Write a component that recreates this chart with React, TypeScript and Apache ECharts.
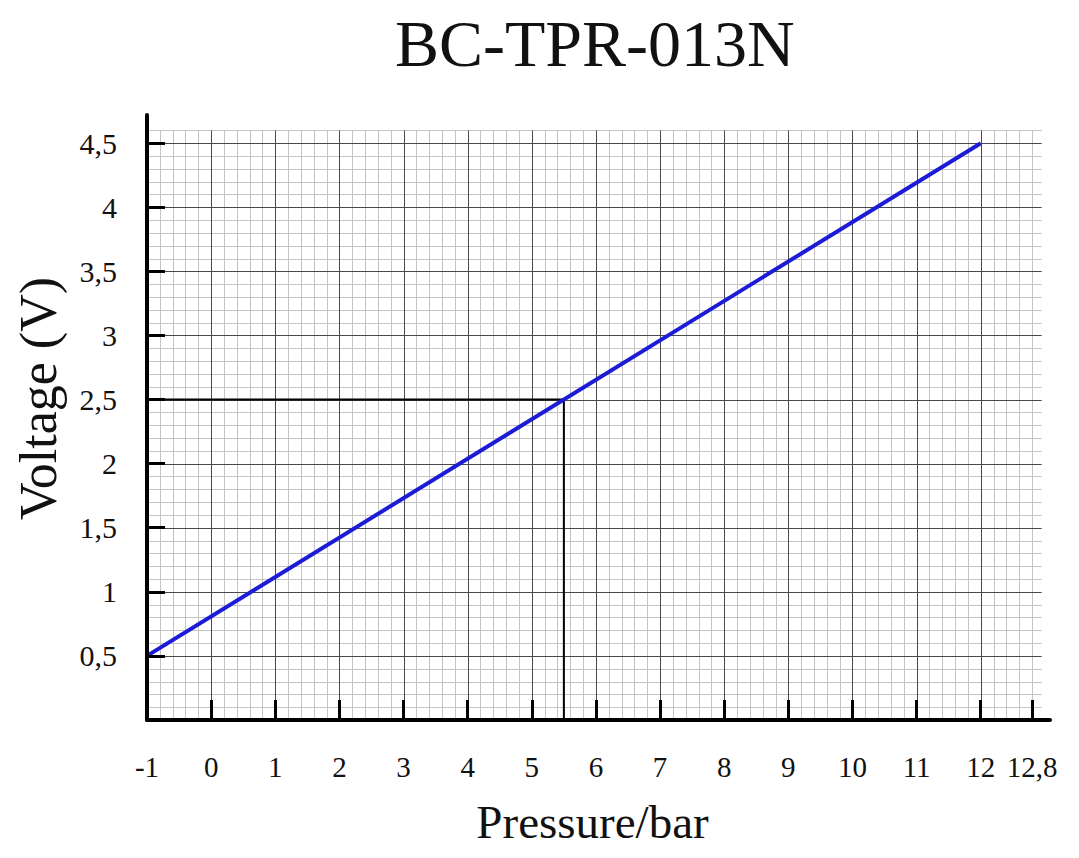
import React, { useEffect, useRef } from "react";
import * as echarts from "echarts";

const TITLE = "BC-TPR-013N";
const X_NAME = "Pressure/bar";
const Y_NAME = "Voltage (V)";

const xLabelValues = [-1, 0, 1, 2, 3, 4, 5, 6, 7, 8, 9, 10, 11, 12, 12.8];
const xTickValues = [0, 1, 2, 3, 4, 5, 6, 7, 8, 9, 10, 11, 12, 12.8];
const yLabelValues = [0.5, 1, 1.5, 2, 2.5, 3, 3.5, 4, 4.5];

const outputLine = [
  [-1, 0.5],
  [12, 4.5],
];
const referencePoint = [5.5, 2.5];

const X_MIN = -1;
const X_MAX = 13.08;
const Y_MIN = 0;
const Y_MAX = 4.72;
const GRID_X_END = 12.8;
const GRID_H_END = 12.95;
const GRID_Y_END = 4.6;

const fmt = (v: number) => String(Math.round(v * 10) / 10).replace(".", ",");

export default function App() {
  const ref = useRef<HTMLDivElement>(null);
  useEffect(() => {
    document.body.style.margin = "0";
    const chart = echarts.init(ref.current!, null, { renderer: "svg" });
    const font = "'Liberation Serif', 'Times New Roman', serif";

    const renderGrid = (params: any, api: any) => {
      const children: any[] = [];
      for (let i = 0; ; i++) {
        const x = X_MIN + i * 0.2;
        if (x > GRID_X_END + 1e-6) break;
        const major = Math.abs(x - Math.round(x)) < 1e-6;
        const p1 = api.coord([x, 0]);
        const p2 = api.coord([x, GRID_Y_END]);
        children.push({
          type: "line",
          shape: { x1: Math.round(p1[0]) + 0.5, y1: p1[1], x2: Math.round(p2[0]) + 0.5, y2: p2[1] },
          style: { stroke: major ? "#4a4a4a" : "#c4c4c4", lineWidth: 1 },
          z2: major ? 2 : 1,
        });
      }
      for (let j = 1; ; j++) {
        const y = j * 0.1;
        if (y > GRID_Y_END + 1e-6) break;
        const major = Math.abs(y * 2 - Math.round(y * 2)) < 1e-6;
        const p1 = api.coord([X_MIN, y]);
        const p2 = api.coord([GRID_H_END, y]);
        children.push({
          type: "line",
          shape: { x1: p1[0], y1: Math.round(p1[1]) + 0.5, x2: p2[0], y2: Math.round(p2[1]) + 0.5 },
          style: { stroke: major ? "#4a4a4a" : "#c4c4c4", lineWidth: 1 },
          z2: major ? 2 : 1,
        });
      }
      return { type: "group", children };
    };

    chart.setOption({
      animation: false,
      backgroundColor: "#ffffff",
      title: {
        text: TITLE,
        left: 390,
        top: 5,
        textStyle: { fontFamily: font, fontSize: 66, fontWeight: "normal", color: "#111" },
      },
      grid: { left: 147, right: 29, top: 115, bottom: 138, containLabel: false },
      xAxis: {
        type: "value",
        min: X_MIN,
        max: X_MAX,
        z: 5,
        name: X_NAME,
        nameLocation: "middle",
        nameGap: 78,
        nameTextStyle: { fontFamily: font, fontSize: 47, color: "#111", padding: [0, 12, 0, 0] },
        axisLine: { show: true, onZero: false, lineStyle: { color: "#000", width: 4 } },
        axisTick: {
          show: true,
          inside: true,
          length: 20,
          customValues: xTickValues,
          lineStyle: { color: "#000", width: 3 },
        },
        axisLabel: {
          customValues: xLabelValues,
          formatter: (v: number) => fmt(v),
          margin: 32,
          fontFamily: font,
          fontSize: 29,
          color: "#111",
        },
        splitLine: { show: false },
      },
      yAxis: {
        type: "value",
        min: Y_MIN,
        max: Y_MAX,
        z: 5,
        name: Y_NAME,
        nameLocation: "middle",
        nameGap: 83,
        nameTextStyle: { fontFamily: font, fontSize: 52, color: "#111", padding: [0, 0, 0, 38] },
        axisLine: { show: true, onZero: false, lineStyle: { color: "#000", width: 4 } },
        axisTick: {
          show: true,
          inside: true,
          length: 18,
          customValues: yLabelValues,
          lineStyle: { color: "#000", width: 3 },
        },
        axisLabel: {
          customValues: yLabelValues,
          formatter: (v: number) => fmt(v),
          margin: 30,
          fontFamily: font,
          fontSize: 30,
          color: "#111",
        },
        splitLine: { show: false },
      },
      series: [
        {
          type: "custom",
          z: 1,
          silent: true,
          clip: false,
          renderItem: renderGrid,
          data: [[0, 0]],
        },
        {
          type: "line",
          z: 3,
          silent: true,
          symbol: "none",
          data: [
            [X_MIN, referencePoint[1]],
            referencePoint,
            [referencePoint[0], 0],
          ],
          lineStyle: { color: "#000", width: 2 },
        },
        {
          type: "line",
          z: 4,
          silent: true,
          symbol: "none",
          data: outputLine,
          lineStyle: { color: "#1c1cd6", width: 4 },
        },
      ],
    });
    return () => chart.dispose();
  }, []);
  return <div ref={ref} style={{ width: 1079, height: 858 }} />;
}
